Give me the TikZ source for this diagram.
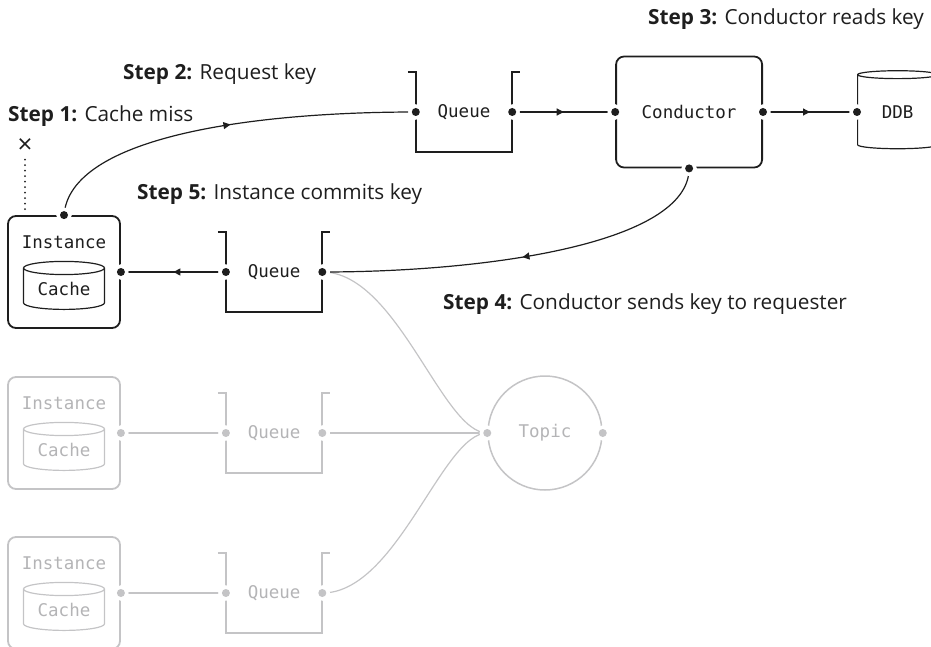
\documentclass[tikz,border=0pt]{standalone}
\usepackage{fontspec}
\setmainfont{Open Sans}
\setmonofont{DejaVu Sans Mono}
\usetikzlibrary{positioning, arrows.meta, shapes.geometric, decorations.markings}
\usepackage{xcolor}
\definecolor{ink}{HTML}{1E1E1E}
\definecolor{faint}{HTML}{C4C4C6}
\definecolor{fainttext}{HTML}{B4B4B6}

\begin{document}
\begin{tikzpicture}[
    x=1pt, y=1pt,
    every node/.style={font=\ttfamily\fontsize{17.5}{20}\selectfont, text=ink},
    instbox/.style={
        rounded corners=8pt,
        draw=#1,
        line width=1.8pt,
        minimum width=112pt,
        minimum height=112pt,
        inner sep=0pt,
    },
    condbox/.style={
        rounded corners=8pt,
        draw=ink,
        line width=1.8pt,
        minimum width=146pt,
        minimum height=111pt,
    },
    store/.style={
        cylinder,
        shape border rotate=90,
        aspect=0.25,
        draw=#1,
        line width=1.2pt,
        inner sep=0pt,
    },
    queue/.style={minimum width=96pt, minimum height=80pt, inner sep=0pt},
    port/.style={
        circle, inner sep=0pt, minimum size=8pt, fill=#1,
        preaction={draw=white, line width=7pt},
    },
    wire/.style={draw=#1, line width=1.2pt},
    bracket/.style={draw=#1, line width=1.8pt},
    flow/.style={
        wire=ink,
        decoration={markings, mark=at position #1 with {\arrow{Triangle[length=7pt,width=7pt]}}},
        postaction={decorate},
    },
    flow/.default=0.5,
    steplabel/.style={font=\rmfamily\fontsize{20.8}{24}\selectfont, anchor=base west, inner sep=0pt},
]
\useasboundingbox (0,0) rectangle (931,-647);

% Instances and their queues
\node[instbox=ink] (inst1) at (64,-272) {};
\node[queue, right=105pt of inst1] (q2) {Queue};
\node[instbox=faint] (inst2) at (64,-433) {};
\node[queue, right=105pt of inst2, text=fainttext] (q3) {Queue};
\node[instbox=faint] (inst3) at (64,-593) {};
\node[queue, right=105pt of inst3, text=fainttext] (q4) {Queue};

% Contents of the instances
\node (inst1-lbl) at ([yshift=-27pt]inst1.north) {Instance};
\node[store=ink, minimum width=81pt, minimum height=48pt] (cache1) at ([yshift=-17pt]inst1.center) {Cache};
\node[text=fainttext] (inst2-lbl) at ([yshift=-27pt]inst2.north) {Instance};
\node[store=faint, minimum width=81pt, minimum height=48pt, text=fainttext] (cache2) at ([yshift=-17pt]inst2.center) {Cache};
\node[text=fainttext] (inst3-lbl) at ([yshift=-27pt]inst3.north) {Instance};
\node[store=faint, minimum width=81pt, minimum height=48pt, text=fainttext] (cache3) at ([yshift=-17pt]inst3.center) {Cache};

% Top row: queue, conductor, DDB
\node[queue] (q1) at (464,-112) {Queue};
\node[condbox, right=103pt of q1] (cond) {Conductor};
\node[store=ink, minimum width=80pt, minimum height=78pt, right=94pt of cond] (ddb) {DDB};

% Topic
\node[circle, draw=faint, line width=1.5pt, minimum size=114pt, text=fainttext] (topic) at (545,-433) {Topic};

% Queue brackets
\draw[bracket=ink] ([xshift=-8pt]q1.north west) -- (q1.north west) -- (q1.south west) -- (q1.south east) -- (q1.north east) -- ++(8pt,0);
\draw[bracket=ink] ([xshift=-8pt]q2.north west) -- (q2.north west) -- (q2.south west) -- (q2.south east) -- (q2.north east) -- ++(8pt,0);
\draw[bracket=faint] ([xshift=-8pt]q3.north west) -- (q3.north west) -- (q3.south west) -- (q3.south east) -- (q3.north east) -- ++(8pt,0);
\draw[bracket=faint] ([xshift=-8pt]q4.north west) -- (q4.north west) -- (q4.south west) -- (q4.south east) -- (q4.north east) -- ++(8pt,0);

% Cache miss marker
\node[font=\rmfamily\fontsize{26}{28}\selectfont, inner sep=0pt] (miss) at (25,-146) {×};

% Step labels
\node[steplabel] (step1) at (8,-122) {\textbf{Step 1:} Cache miss};
\node[steplabel] (step2) at (123,-80) {\textbf{Step 2:} Request key};
\node[steplabel] (step3) at (648,-25) {\textbf{Step 3:} Conductor reads key};
\node[steplabel] (step4) at (443,-309) {\textbf{Step 4:} Conductor sends key to requester};
\node[steplabel] (step5) at (137,-200) {\textbf{Step 5:} Instance commits key};

% Ports
\coordinate (pi1n) at (inst1.north);
\coordinate (pi1e) at (inst1.east);
\coordinate (pi2e) at (inst2.east);
\coordinate (pi3e) at (inst3.east);
\coordinate (pq1w) at (q1.west);
\coordinate (pq1e) at (q1.east);
\coordinate (pq2w) at (q2.west);
\coordinate (pq2e) at (q2.east);
\coordinate (pq3w) at (q3.west);
\coordinate (pq3e) at (q3.east);
\coordinate (pq4w) at (q4.west);
\coordinate (pq4e) at (q4.east);
\coordinate (pcw) at (cond.west);
\coordinate (pce) at (cond.east);
\coordinate (pcs) at (cond.south);
\coordinate (pdw) at (ddb.west);
\coordinate (ptw) at (topic.west);
\coordinate (pte) at (topic.east);

% Faint fan-in to the topic
\draw[wire=faint] (pi2e) -- (pq3w);
\draw[wire=faint] (pi3e) -- (pq4w);
\draw[wire=faint] (pq2e) .. controls +(75,0) and +(-45,0) .. (ptw);
\draw[wire=faint] (pq3e) -- (ptw);
\draw[wire=faint] (pq4e) .. controls +(75,0) and +(-45,0) .. (ptw);

% Request and reply flow
\draw[dash pattern=on 0pt off 5.5pt, line cap=round, line width=2pt, ink] ([yshift=-6pt]miss.south) -- ([yshift=4pt]miss.south |- inst1.north);
\draw[flow=0.52] (pi1n) .. controls +(6,78) and +(-165,0) .. (pq1w);
\draw[flow] (pq1e) -- (pcw);
\draw[flow] (pce) -- (pdw);
\draw[flow] (pcs) .. controls +(0,-75) and +(165,0) .. (pq2e);
\draw[flow] (pq2w) -- (pi1e);

% Port dots
\foreach \p in {pi1n,pi1e,pq1w,pq1e,pq2w,pq2e,pcw,pce,pcs,pdw}
    \node[port=ink] at (\p) {};
\foreach \p in {pi2e,pi3e,pq3w,pq3e,pq4w,pq4e,ptw,pte}
    \node[port=faint] at (\p) {};

\end{tikzpicture}
\end{document}
